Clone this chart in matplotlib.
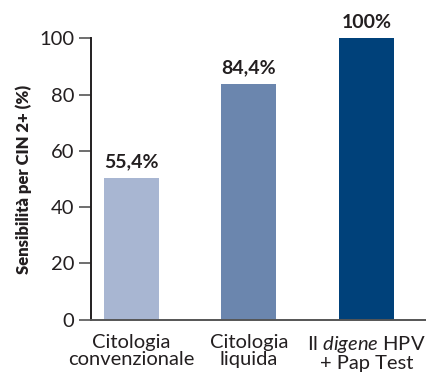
import matplotlib
matplotlib.use('Agg')
import matplotlib.pyplot as plt

categories = ['Citologia\nconvenzionale', 'Citologia\nliquida', 'Il $\\it{digene}$ HPV\n+ Pap Test']
bar_heights = [50.4, 83.9, 100.0]
value_labels = ['55,4%', '84,4%', '100%']
bar_colors = ['#a8b6d2', '#6b86ae', '#00417a']
y_ticks = [0, 20, 40, 60, 80, 100]

plt.rcParams['font.family'] = ['Lato', 'DejaVu Sans']
plt.rcParams['mathtext.fontset'] = 'custom'
plt.rcParams['mathtext.rm'] = 'Lato'
plt.rcParams['mathtext.it'] = 'Lato:italic'

fig = plt.figure(figsize=(4.26, 3.75), dpi=100)
ax = fig.add_axes([0.213, 0.1475, 0.787, 0.7504])

x = range(len(categories))
bars = ax.bar(x, bar_heights, width=0.468, color=bar_colors, clip_on=False)

# value labels above the bars
for b, lab in zip(bars, value_labels):
    ax.text(b.get_x() + b.get_width() / 2, b.get_height() + 2.6, lab,
            ha='center', va='bottom', fontsize=14, fontweight='bold', color='#231f20')

ax.set_xlim(-0.347, 2.507)
ax.set_ylim(0, 100)
ax.set_yticks(y_ticks)
ax.set_yticklabels([str(t) for t in y_ticks], fontsize=14.5, color='#231f20')
ax.set_xticks(list(x))
ax.set_xticklabels(categories, fontsize=14.5, color='#231f20', linespacing=1.05)
ax.tick_params(axis='x', length=0, pad=10)
ax.tick_params(axis='y', length=9, width=1.2, color='#555555', pad=3)

ax.spines['top'].set_visible(False)
ax.spines['right'].set_visible(False)
ax.spines['left'].set_color('#231f20')
ax.spines['left'].set_linewidth(1.4)
ax.spines['bottom'].set_color('#555555')
ax.spines['bottom'].set_linewidth(1.4)

ax.set_ylabel('Sensibilità per CIN 2+ (%)', fontsize=12, fontweight='heavy',
              color='#231f20', labelpad=5)

fig.savefig('out.png', dpi=100)
